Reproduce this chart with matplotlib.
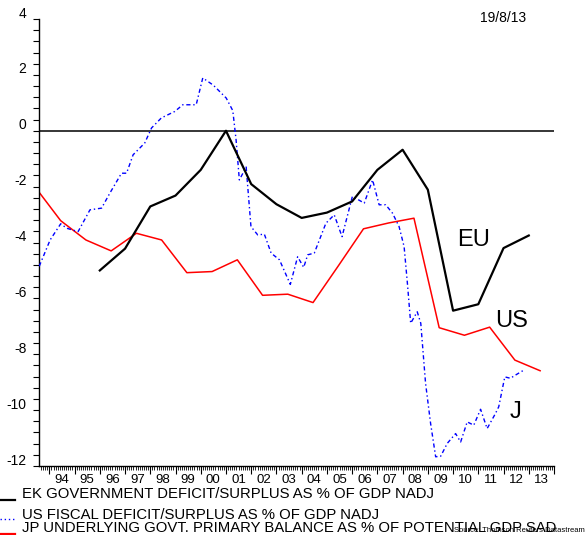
import matplotlib
matplotlib.use("Agg")
import matplotlib.pyplot as plt
import numpy as np
from matplotlib.transforms import ScaledTranslation
from matplotlib.lines import Line2D

plt.rcParams['font.family'] = ['Liberation Sans', 'DejaVu Sans']

# EU: government deficit/surplus (% of GDP), annual
eu_years = [1996, 1997, 1998, 1999, 2000, 2001, 2002, 2003, 2004, 2005,
            2006, 2007, 2008, 2009, 2010, 2011, 2012, 2013]
eu_vals = [-5.0, -4.22, -2.71, -2.32, -1.40, 0.0, -1.91, -2.63, -3.12, -2.93,
           -2.53, -1.40, -0.68, -2.11, -6.44, -6.21, -4.20, -3.75]

# JP underlying primary balance, annual (plotted mid-year)
jp_years = [1993.45, 1994.45, 1995.45, 1996.45, 1997.45, 1998.45, 1999.45, 2000.45,
            2001.45, 2002.45, 2003.45, 2004.45, 2005.45, 2006.45, 2007.45, 2008.45,
            2009.45, 2010.45, 2011.45, 2012.45, 2013.45]
jp_vals = [-2.03, -3.22, -3.91, -4.30, -3.67, -3.91, -5.08, -5.04,
           -4.62, -5.89, -5.85, -6.15, -4.84, -3.51, -3.30, -3.13,
           -7.05, -7.32, -7.03, -8.21, -8.59]

# US fiscal deficit/surplus (% of GDP)
us_dates = [1993.60, 1994.03, 1994.45, 1994.69, 1995.14, 1995.61, 1996.07, 1996.40,
            1996.86, 1997.06, 1997.32, 1997.78, 1998.05, 1998.44, 1998.97, 1999.29,
            1999.82, 2000.08, 2000.50, 2001.01, 2001.27, 2001.40, 2001.53, 2001.80,
            2001.99, 2002.26, 2002.52, 2002.79, 2003.12, 2003.55, 2003.84, 2004.08,
            2004.24, 2004.50, 2004.96, 2005.29, 2005.60, 2006.01, 2006.48, 2006.81,
            2007.07, 2007.33, 2007.60, 2007.86, 2008.06, 2008.19, 2008.32, 2008.58,
            2008.72, 2008.91, 2009.11, 2009.31, 2009.51, 2009.77, 2010.10, 2010.30,
            2010.56, 2010.82, 2011.09, 2011.35, 2011.68, 2011.81, 2012.05, 2012.27,
            2012.54, 2012.80]
us_vals = [-4.85, -3.91, -3.33, -3.49, -3.61, -2.83, -2.77, -2.23,
           -1.52, -1.52, -0.86, -0.44, 0.10, 0.46, 0.69, 0.93,
           0.93, 1.89, 1.63, 1.17, 0.72, -0.32, -1.76, -1.30,
           -3.43, -3.73, -3.70, -4.38, -4.62, -5.50, -4.51, -4.89,
           -4.44, -4.38, -3.31, -3.01, -3.79, -2.35, -2.59, -1.76,
           -2.65, -2.65, -2.95, -3.43, -4.15, -5.46, -6.89, -6.48,
           -6.89, -9.04, -10.48, -11.67, -11.65, -11.19, -10.84, -11.14,
           -10.42, -10.54, -9.97, -10.66, -10.12, -9.88, -8.81, -8.86,
           -8.71, -8.57]

year_labels = ["94", "95", "96", "97", "98", "99", "00", "01", "02", "03",
               "04", "05", "06", "07", "08", "09", "10", "11", "12", "13"]
y_ticks = [4, 2, 0, -2, -4, -6, -8, -10, -12]

legend_texts = ["EK GOVERNMENT DEFICIT/SURPLUS AS % OF GDP NADJ",
                "US FISCAL DEFICIT/SURPLUS AS % OF GDP NADJ",
                "JP UNDERLYING GOVT. PRIMARY BALANCE AS % OF POTENTIAL GDP SAD"]

W, H = 586, 535
fig = plt.figure(figsize=(W / 100, H / 100), dpi=100)
ax = fig.add_axes([39 / W, 1 - 466 / H, (554 - 39) / W, (466 - 19) / H])

ax.axhline(0, color='black', lw=1.1, zorder=1)
ax.plot(jp_years, jp_vals, color='#ff0000', lw=1.1, zorder=2)
ax.plot(us_dates, us_vals, color='#0000ff', lw=1.0, linestyle=(0, (3, 2, 1, 2)), zorder=3)
ax.plot(eu_years, eu_vals, color='black', lw=1.6, zorder=4)

ax.set_xlim(1993.59, 2013.95)
ax.set_ylim(-12, 4)

for s in ['top', 'right']:
    ax.spines[s].set_visible(False)
for s in ['left', 'bottom']:
    ax.spines[s].set_linewidth(1.0)

# y axis
ax.set_yticks(y_ticks)
ax.set_yticklabels([str(v) for v in y_ticks])
ax.set_yticks(np.arange(-12, 4.01, 0.4), minor=True)
ax.tick_params(axis='y', which='both', direction='out', length=4, width=0.8,
               labelsize=10, pad=5)
off = ScaledTranslation(0, 5 / 72, fig.dpi_scale_trans)
for lab in ax.get_yticklabels():
    lab.set_transform(lab.get_transform() + off)

# x axis: major ticks at year boundaries, labels mid-year
years = np.arange(1994, 2014)
ax.set_xticks(list(years) + [2014])
ax.set_xticklabels([])
ax.set_xticks(np.arange(1993 + 8 / 12, 2014, 1 / 12), minor=True)
ax.tick_params(axis='x', which='major', direction='out', length=6, width=0.8)
ax.tick_params(axis='x', which='minor', direction='out', length=3, width=0.6)
for yr, lab in zip(years, year_labels):
    ax.text(yr + 0.5, -12, lab, fontsize=9.5,
            ha='center', va='top',
            transform=ax.transData + ScaledTranslation(0, -6 / 72, fig.dpi_scale_trans))

# series labels
ax.text(2010.82, -3.92, "EU", fontsize=17, ha='center', va='center')
ax.text(2012.33, -6.81, "US", fontsize=17, ha='center', va='center')
ax.text(2012.46, -10.05, "J", fontsize=17, ha='center', va='center')

# date
fig.text(503 / W, 1 - 18 / H, "19/8/13", fontsize=10, ha='center', va='center')

# legend
leg_y_text = [494, 515, 528]
leg_y_line = [500, 519, 534]
styles = [dict(color='black', lw=1.6),
          dict(color='#0000ff', lw=1.0, linestyle=(0, (1, 2))),
          dict(color='#ff0000', lw=1.6)]
for txt, yt, yl, st in zip(legend_texts, leg_y_text, leg_y_line, styles):
    fig.text(22 / W, 1 - yt / H, txt, fontsize=10.7,
             ha='left', va='center')
    fig.add_artist(Line2D([0, 15 / W], [1 - yl / H, 1 - yl / H],
                          transform=fig.transFigure, **st))

fig.text(585 / W, 1 - 531 / H, "Source: Thomson Reuters Datastream",
         fontsize=5.5, ha='right', va='center')

fig.savefig("out.png", dpi=100)
